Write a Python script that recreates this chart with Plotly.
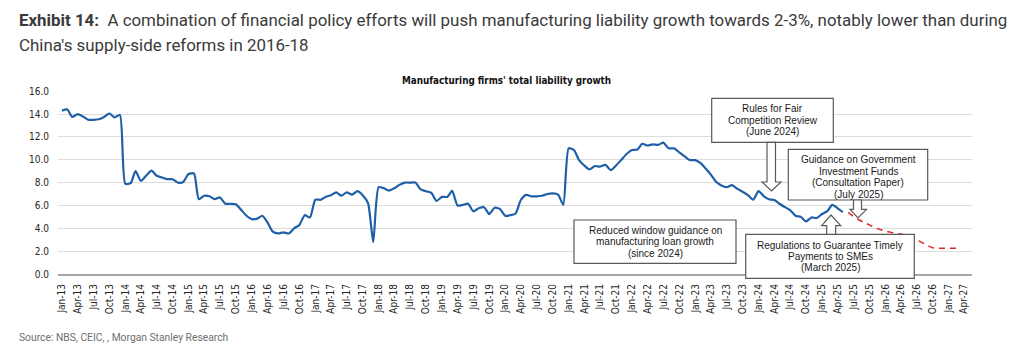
import plotly.graph_objects as go
import pandas as pd

# ---------------- data ----------------
actual_values = [
    14.3, 14.4, 13.75, 14.0, 13.8, 13.5, 13.5, 13.55, 13.75, 14.05, 13.7, 13.93,   # 2013
    7.9, 7.95, 9.0, 8.15, 8.6, 9.05, 8.6, 8.45, 8.3, 8.3, 8.0, 8.05,                 # 2014
    8.75, 8.8, 6.55, 6.85, 6.8, 6.55, 6.7, 6.15, 6.15, 6.1, 5.6, 5.1,                # 2015
    4.8, 4.85, 5.1, 4.5, 3.7, 3.55, 3.65, 3.55, 4.0, 4.3, 5.15, 4.95,                # 2016
    6.5, 6.5, 6.75, 6.9, 7.15, 6.85, 7.15, 6.95, 7.25, 6.9, 6.2, 2.8,                # 2017
    7.6, 7.5, 7.3, 7.5, 7.8, 8.0, 8.0, 8.0, 7.4, 7.25, 7.1, 6.4,                     # 2018
    6.75, 6.75, 7.28, 6.0, 6.05, 6.15, 5.5, 5.75, 5.85, 5.25, 5.8, 5.7,              # 2019
    5.1, 5.15, 5.3, 6.5, 6.93, 6.8, 6.8, 6.85, 7.0, 7.05, 6.95, 6.05,                # 2020
    11.0, 10.85, 10.0, 9.5, 9.15, 9.45, 9.4, 9.55, 9.1, 9.5, 10.0, 10.5,             # 2021
    10.85, 10.9, 11.4, 11.25, 11.35, 11.3, 11.5, 11.0, 11.0, 10.65, 10.3, 9.97,      # 2022
    9.97, 9.7, 9.25, 8.7, 8.07, 7.75, 7.6, 7.78, 7.45, 7.2, 6.9, 6.5,                # 2023
    7.25, 6.8, 6.55, 6.47, 6.15, 5.85, 5.6, 5.1, 5.0, 4.6, 4.95, 4.9,                # 2024
    5.25, 5.5, 6.05, 5.75, 5.42,                                                     # 2025
]
actual_start = "2013-01-01"

forecast_values = [
    5.4, 5.05, 4.75, 4.5, 4.3, 4.05, 3.9,          # Jun-25 .. Dec-25
    3.75, 3.65, 3.55, 3.5, 3.35, 3.2, 3.0, 2.75,   # Jan-26 .. Aug-26
    2.5, 2.3, 2.25, 2.25, 2.25, 2.25, 2.25,        # Sep-26 .. Mar-27
]
forecast_start = "2025-06-01"

exhibit_label = "Exhibit 14:"
exhibit_title_l1 = "A combination of financial policy efforts will push manufacturing liability growth towards 2-3%, notably lower than during"
exhibit_title_l2 = "China's supply-side reforms in 2016-18"
chart_title = "Manufacturing firms' total liability growth"
source_text = "Source: NBS, CEIC, , Morgan Stanley Research"
y_ticks = [0, 2, 4, 6, 8, 10, 12, 14, 16]

box_texts = {
    "rules": ["Rules for Fair", "Competition Review", "(June 2024)"],
    "guidance": ["Guidance on Government", "Investment Funds", "(Consultation Paper)", "(July 2025)"],
    "regulations": ["Regulations to Guarantee Timely", "Payments to SMEs", "(March 2025)"],
    "reduced": ["Reduced window guidance on", "manufacturing loan growth", "(since 2024)"],
}

# ---------------- figure ----------------
W, H = 1024, 352
PL, PR, PT, PB = 58, 972, 91, 274   # plot area in pixels


def px(x):
    return (x - PL) / (PR - PL)


def py(y):
    return (PB - y) / (PB - PT)


x_actual = pd.date_range(actual_start, periods=len(actual_values), freq="MS")
x_fc = pd.date_range(forecast_start, periods=len(forecast_values), freq="MS")

narrow = "'Liberation Sans Narrow', 'Arial Narrow', 'DejaVu Sans Condensed', sans-serif"
arial = "'Liberation Sans', Arial, sans-serif"

fig = go.Figure()
fig.add_trace(go.Scatter(x=x_actual, y=actual_values, mode="lines",
                         line=dict(color="#1f5fa8", width=2.2, shape="spline", smoothing=0.6),
                         showlegend=False, hoverinfo="skip"))
fig.add_trace(go.Scatter(x=x_fc, y=forecast_values, mode="lines",
                         line=dict(color="#e0262e", width=1.5, dash="6px,5px", shape="spline", smoothing=0.6),
                         showlegend=False, hoverinfo="skip"))

shapes = []
annotations = []

BORDER = "#595959"


def box(x0, y0, x1, y1):
    shapes.append(dict(type="rect", xref="paper", yref="paper",
                       x0=px(x0), x1=px(x1), y0=py(y1), y1=py(y0),
                       line=dict(color=BORDER, width=1.2), fillcolor="white", layer="above"))


def arrow(points):
    d = "M " + " L ".join(f"{px(a):.5f},{py(b):.5f}" for a, b in points) + " Z"
    shapes.append(dict(type="path", xref="paper", yref="paper", path=d,
                       line=dict(color=BORDER, width=1.2), fillcolor="white", layer="above"))


def lines(texts, cx, y_first, step):
    for i, t in enumerate(texts):
        annotations.append(dict(text=t, x=px(cx), y=py(y_first + i * step), xref="paper", yref="paper",
                                xanchor="center", yanchor="middle", showarrow=False,
                                font=dict(family=arial, size=10, color="#1a1a1a")))


# Rules for Fair Competition Review
box(711.7, 98.3, 833.3, 142.3)
arrow([(767, 142.3), (767, 182), (762, 182), (771.5, 191), (781, 182), (775.5, 182), (775.5, 142.3)])
lines(box_texts["rules"], 772.5, 108.6, 11.6)

# Guidance on Government Investment Funds
box(788.3, 149.3, 927.7, 200)
arrow([(853.5, 200), (853.5, 209.3), (850, 209.3), (858, 218), (866.5, 209.3), (861.5, 209.3), (861.5, 200)])
lines(box_texts["guidance"], 858, 159.5, 11.5)

# Regulations to Guarantee Timely Payments
box(745.7, 234.3, 914.3, 278.3)
arrow([(826.7, 234.3), (826.7, 225.7), (821.7, 225.7), (831, 215), (840.7, 225.7), (835.7, 225.7), (835.7, 234.3)])
lines(box_texts["regulations"], 830, 245, 11.4)

# Reduced window guidance
box(574, 220, 736, 263.3)
lines(box_texts["reduced"], 655, 230.3, 11.6)

# chart title
annotations.append(dict(text=f"<b>{chart_title}</b>", x=px(506), y=py(81), xref="paper", yref="paper",
                        xanchor="center", yanchor="middle", showarrow=False,
                        font=dict(family=narrow, size=9.8, color="#111111")))
# exhibit title
annotations.append(dict(text=f"<b>{exhibit_label}</b>  {exhibit_title_l1}", x=px(17), y=py(20),
                        xref="paper", yref="paper", xanchor="left", yanchor="middle", showarrow=False,
                        font=dict(family="Roboto, sans-serif", size=16.9, color="#3a3a3a")))
annotations.append(dict(text=exhibit_title_l2, x=px(17), y=py(45),
                        xref="paper", yref="paper", xanchor="left", yanchor="middle", showarrow=False,
                        font=dict(family="Roboto, sans-serif", size=16.9, color="#3a3a3a")))
# source
annotations.append(dict(text=source_text, x=px(17), y=py(337), xref="paper", yref="paper",
                        xanchor="left", yanchor="middle", showarrow=False,
                        font=dict(family="Roboto, sans-serif", size=10.3, color="#6e6e6e")))

fig.update_layout(
    width=W, height=H,
    margin=dict(l=PL, r=W - PR, t=PT, b=H - PB, pad=0),
    paper_bgcolor="white", plot_bgcolor="white",
    shapes=shapes, annotations=annotations,
    xaxis=dict(type="date", range=["2012-12-09", "2027-05-16"],
               tick0="2013-01-01", dtick="M3", tickformat="%b-%y", tickangle=-90,
               showgrid=False, showline=True, linecolor="#a6a6a6", linewidth=2,
               ticks="", ticklabelstandoff=4,
               tickfont=dict(family=narrow, size=10, color="#262626")),
    yaxis=dict(range=[0, 16.02], tickvals=y_ticks, tickformat=".1f",
               showgrid=True, gridcolor="#dcdcdc", gridwidth=1.3,
               zeroline=False, showline=False, ticks="", ticklabelstandoff=8,
               tickfont=dict(family=narrow, size=10, color="#262626")),
)

fig.write_html("out.html")
